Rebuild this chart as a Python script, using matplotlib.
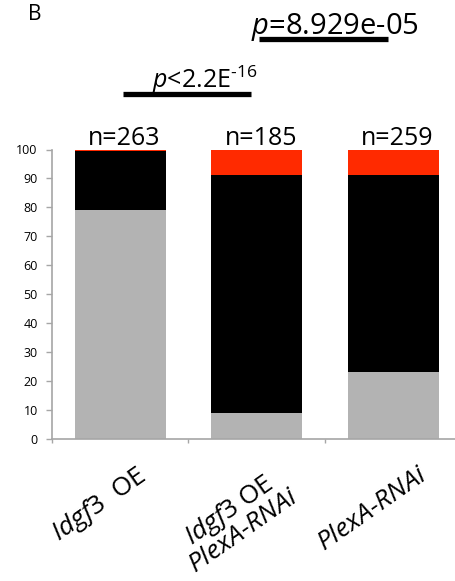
import numpy as np
import matplotlib
matplotlib.use("Agg")
import matplotlib.pyplot as plt
import matplotlib.transforms as mtransforms

plt.rcParams['font.family'] = ['Open Sans', 'DejaVu Sans']
plt.rcParams['mathtext.fontset'] = 'custom'
plt.rcParams['mathtext.rm'] = 'Open Sans'
plt.rcParams['mathtext.it'] = 'Open Sans:italic'

# data (percent of animals per class)
labels = [r"$\mathit{Idgf3}$  OE",
          r"$\mathit{Idgf3}$ OE" + "\n" + r"$\mathit{PlexA}$-$\mathit{RNAi}$",
          r"$\mathit{PlexA}$-$\mathit{RNAi}$"]
grey_pct = np.array([79.0, 8.9, 23.0])
black_pct = np.array([20.6, 82.4, 68.3])
red_pct = np.array([0.4, 8.7, 8.7])
n_counts = [263, 185, 259]
comparisons = [(0, 1, r"$\mathit{p}$<2.2E$^{\text{-16}}$"),
               (1, 2, r"$\mathit{p}$=8.929e-05")]

x = np.arange(len(labels))
spine_col = '#a6a6a6'

fig = plt.figure(figsize=(4.56, 5.81), dpi=100)
ax = fig.add_axes([52/456, 142/581, 409.5/456, 289.5/581])

w = 0.667
ax.bar(x, grey_pct, width=w, color='#b3b3b3')
ax.bar(x, black_pct, width=w, bottom=grey_pct, color='black')
ax.bar(x, red_pct, width=w, bottom=grey_pct + black_pct, color='#ff2a00')

ax.set_xlim(-0.5, 2.5)
ax.set_ylim(0, 100)
ax.set_yticks(np.arange(0, 101, 10))

for s in ['top', 'right']:
    ax.spines[s].set_visible(False)
for s in ['left', 'bottom']:
    ax.spines[s].set_color(spine_col)
    ax.spines[s].set_linewidth(1.2)

ax.tick_params(axis='y', direction='out', length=4.3, width=1, color=spine_col,
               labelsize=9, pad=6)

# minor ticks mark the borders between groups
ax.set_xticks([])
ax.set_xticks(np.arange(-0.5, 3, 1), minor=True)
ax.tick_params(axis='x', which='minor', direction='out', length=3, width=1,
               color=spine_col, labelbottom=False)

# rotated category labels
trans = mtransforms.blended_transform_factory(ax.transData, ax.transAxes)
for i, lab in enumerate(labels):
    ax.text(x[i] - 0.155, -0.08, lab, transform=trans, rotation=35,
            ha='center', va='top', fontsize=19, linespacing=0.9,
            multialignment='center', clip_on=False)

# n above bars
for i, n in enumerate(n_counts):
    ax.text(x[i] + 0.03, 101.5, "n=%d" % n, ha='center', va='baseline', fontsize=18)

# significance bars
sig_y = [119.2, 138.0]
sig_fs = [18, 21]
for (a, b, txt), yy, fs in zip(comparisons, sig_y, sig_fs):
    ax.plot([a + 0.02, b - 0.04], [yy, yy], color='black', lw=3.8,
            solid_capstyle='butt', clip_on=False)
    ax.text(a + 0.23 if a == 0 else a - 0.04, yy + 1.9, txt, ha='left',
            va='baseline', fontsize=fs)

fig.text(28/456, 1 - 20/581, "B", fontsize=15, ha='left', va='baseline')

fig.savefig("out.png", dpi=100)
